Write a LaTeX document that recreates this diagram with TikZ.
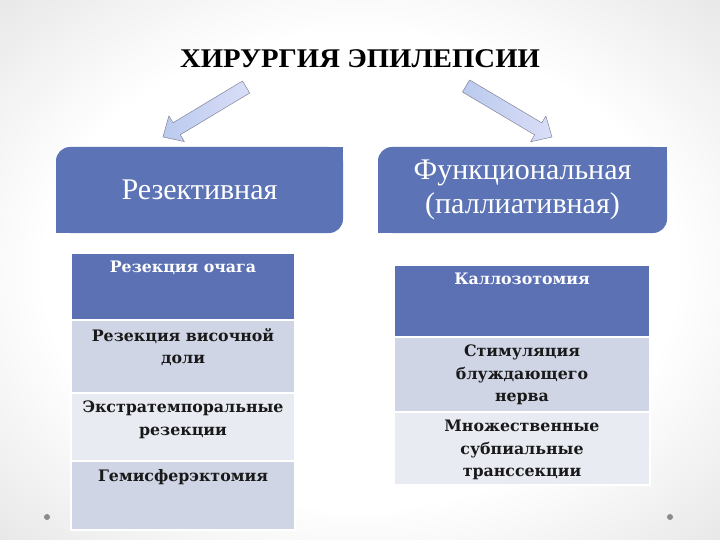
\documentclass[tikz,border=0pt]{standalone}
\usepackage{fontspec}
\setmainfont{Liberation Serif}
\newfontfamily\cellfont{DejaVu Serif}
\usetikzlibrary{positioning}

\definecolor{headblue}{RGB}{92,115,181}
\definecolor{rowdark}{RGB}{91,113,180}
\definecolor{rowlight}{RGB}{208,213,230}
\definecolor{rowpale}{RGB}{233,235,243}
\definecolor{arrowtail}{RGB}{186,202,238}
\definecolor{arrowhead}{RGB}{218,222,248}
\definecolor{arrowedge}{RGB}{130,134,150}
\definecolor{dotgray}{RGB}{140,140,140}

\pgfdeclareradialshading{bgshade}{\pgfpoint{0bp}{0bp}}{color(0bp)=(white); color(22bp)=(white); color(50bp)=(black!19); color(100bp)=(black!25)}

\tikzset{
  title/.style={font=\bfseries\fontsize{27}{32}\selectfont, inner sep=0pt, xscale=1.065},
  headbox/.style={fill=headblue, rounded corners=14pt, minimum width=#1, minimum height=86pt, inner sep=0pt},
  headtext/.style={text=white, font=\fontsize{30}{34}\selectfont, align=center, inner sep=0pt},
  cell/.style={fill=#1, draw=white, line width=1.5pt, inner sep=0pt, outer sep=0pt},
  celltext/.style={font=\cellfont\bfseries\fontsize{15.8}{22.5}\selectfont, align=center, inner sep=0pt, text=black!90},
  blockarrow/.style={draw=arrowedge, line width=0.5pt, line join=round, left color=arrowtail, right color=arrowhead}
}

\begin{document}
\begin{tikzpicture}[x=1pt, y=-1pt]
  % background of the slide
  \useasboundingbox (0,0) rectangle (720,540);
  \shade[shading=bgshade] (0,0) rectangle (720,540);
  \fill[dotgray] (47,517) circle (3pt);
  \fill[dotgray] (670,517) circle (3pt);

  % the title
  \node[title] (title) at (360,59) {ХИРУРГИЯ ЭПИЛЕПСИИ};

  % the two kinds
  \node[headbox=287pt] (rez) at (199.5,190) {};
  \fill[headblue] (rez.north east) rectangle ++(-16,16);
  \fill[headblue] (rez.south west) rectangle ++(16,-16);
  \node[headtext] (reztext) at (rez) {Резективная};

  \node[headbox=289pt] (fun) at (522.5,190) {};
  \fill[headblue] (fun.north east) rectangle ++(-16,16);
  \fill[headblue] (fun.south west) rectangle ++(16,-16);
  \node[headtext] (funtext) at (fun) {Функциональная\\(паллиативная)};

  % the block arrows from the title
  \draw[blockarrow, shift={(204.5,112)}, rotate=211]
    (-48.5,-7) -- (32.5,-7) -- (32.5,-15) -- (48.5,0) -- (32.5,15) -- (32.5,7) -- (-48.5,7) -- cycle;
  \draw[blockarrow, shift={(509,111.5)}, rotate=-30.7]
    (-50,-7) -- (34,-7) -- (34,-15) -- (50,0) -- (34,15) -- (34,7) -- (-50,7) -- cycle;

  % left table
  \node[cell=rowdark, minimum width=224pt, minimum height=67pt, anchor=north west] (rez1) at (71,253) {};
  \node[cell=rowlight, minimum width=224pt, minimum height=73pt, below=0pt of rez1] (rez2) {};
  \node[cell=rowpale, minimum width=224pt, minimum height=68pt, below=0pt of rez2] (rez3) {};
  \node[cell=rowlight, minimum width=224pt, minimum height=69pt, below=0pt of rez3] (rez4) {};

  \node[celltext, text=white, below=8pt of rez1.north] (rez1t) {Резекция очага};
  \node[celltext, below=8pt of rez2.north] (rez2t) {Резекция височной\\доли};
  \node[celltext, below=8pt of rez3.north] (rez3t) {Экстратемпоральные\\резекции};
  \node[celltext, below=8pt of rez4.north] (rez4t) {Гемисферэктомия};

  % right table
  \node[cell=rowdark, minimum width=256pt, minimum height=72pt, anchor=north west] (fun1) at (394,265) {};
  \node[cell=rowlight, minimum width=256pt, minimum height=75pt, below=0pt of fun1] (fun2) {};
  \node[cell=rowpale, minimum width=256pt, minimum height=73pt, below=0pt of fun2] (fun3) {};

  \node[celltext, text=white, below=8pt of fun1.north] (fun1t) {Каллозотомия};
  \node[celltext, below=8pt of fun2.north] (fun2t) {Стимуляция\\блуждающего\\нерва};
  \node[celltext, below=8pt of fun3.north] (fun3t) {Множественные\\субпиальные\\транссекции};
\end{tikzpicture}
\end{document}
